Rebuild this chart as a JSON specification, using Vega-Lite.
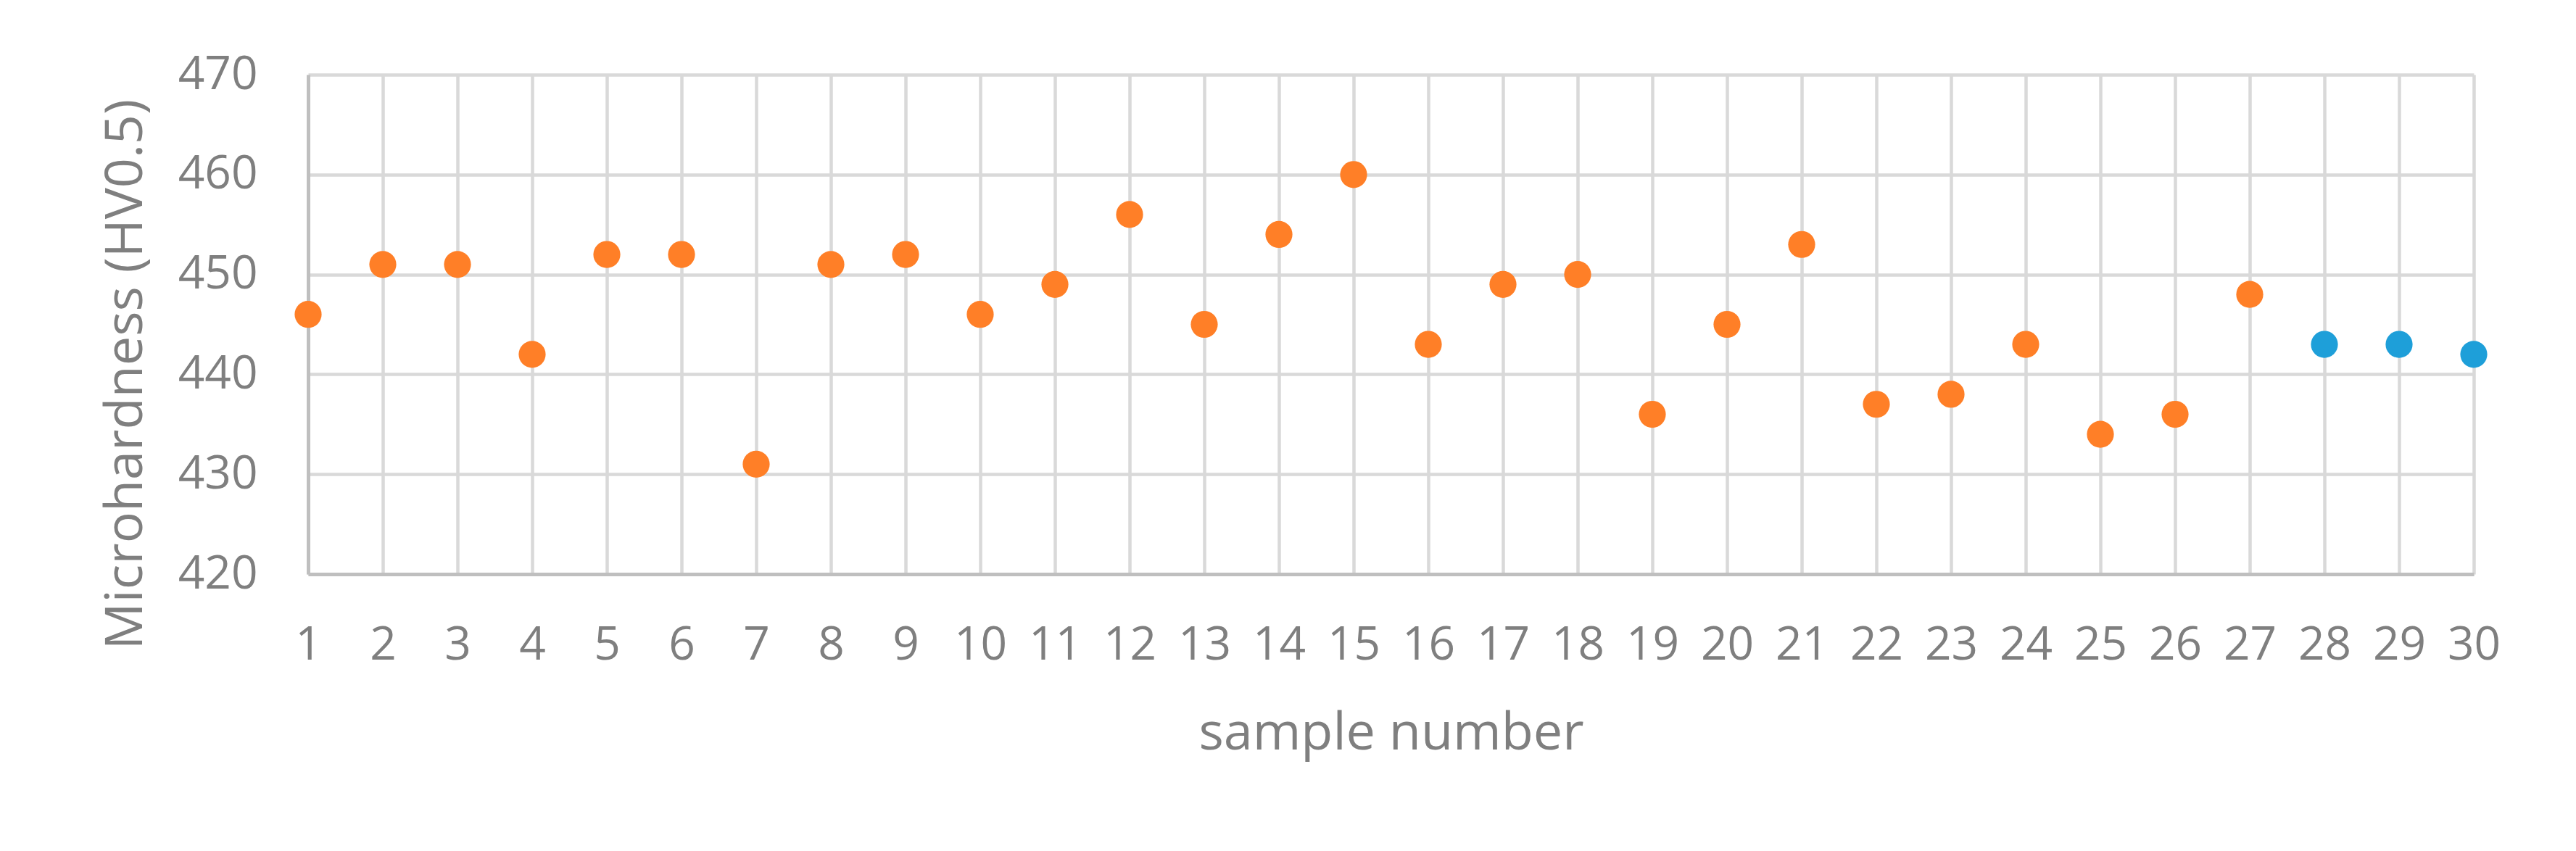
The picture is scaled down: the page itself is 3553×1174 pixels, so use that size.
{
  "$schema": "https://vega.github.io/schema/vega-lite/v6.json",
  "width": 2987,
  "height": 689,
  "autosize": {"type": "none"},
  "padding": {"left": 425, "top": 103, "right": 141, "bottom": 382},
  "background": "white",
  "data": {
    "values": [
      {"sample": 1, "hv": 446, "set": "A"},
      {"sample": 2, "hv": 451, "set": "A"},
      {"sample": 3, "hv": 451, "set": "A"},
      {"sample": 4, "hv": 442, "set": "A"},
      {"sample": 5, "hv": 452, "set": "A"},
      {"sample": 6, "hv": 452, "set": "A"},
      {"sample": 7, "hv": 431, "set": "A"},
      {"sample": 8, "hv": 451, "set": "A"},
      {"sample": 9, "hv": 452, "set": "A"},
      {"sample": 10, "hv": 446, "set": "A"},
      {"sample": 11, "hv": 449, "set": "A"},
      {"sample": 12, "hv": 456, "set": "A"},
      {"sample": 13, "hv": 445, "set": "A"},
      {"sample": 14, "hv": 454, "set": "A"},
      {"sample": 15, "hv": 460, "set": "A"},
      {"sample": 16, "hv": 443, "set": "A"},
      {"sample": 17, "hv": 449, "set": "A"},
      {"sample": 18, "hv": 450, "set": "A"},
      {"sample": 19, "hv": 436, "set": "A"},
      {"sample": 20, "hv": 445, "set": "A"},
      {"sample": 21, "hv": 453, "set": "A"},
      {"sample": 22, "hv": 437, "set": "A"},
      {"sample": 23, "hv": 438, "set": "A"},
      {"sample": 24, "hv": 443, "set": "A"},
      {"sample": 25, "hv": 434, "set": "A"},
      {"sample": 26, "hv": 436, "set": "A"},
      {"sample": 27, "hv": 448, "set": "A"},
      {"sample": 28, "hv": 443, "set": "B"},
      {"sample": 29, "hv": 443, "set": "B"},
      {"sample": 30, "hv": 442, "set": "B"}
    ]
  },
  "mark": {"type": "circle", "opacity": 1, "size": 1385},
  "encoding": {
    "x": {
      "field": "sample",
      "type": "quantitative",
      "scale": {"domain": [1, 30], "nice": false, "zero": false},
      "axis": {
        "values": [1,2,3,4,5,6,7,8,9,10,11,12,13,14,15,16,17,18,19,20,21,22,23,24,25,26,27,28,29,30],
        "title": "sample number",
        "labelPadding": 66,
        "labelFlush": false,
        "labelOverlap": false,
        "titleBaseline": "alphabetic",
        "titleY": 241
      }
    },
    "y": {
      "field": "hv",
      "type": "quantitative",
      "scale": {"domain": [420, 470], "nice": false, "zero": false},
      "axis": {
        "values": [420, 430, 440, 450, 460, 470],
        "title": "Microhardness (HV0.5)",
        "labelPadding": 70,
        "labelFlush": false,
        "labelOverlap": false,
        "titleAngle": -90,
        "titleBaseline": "alphabetic",
        "titleX": -230,
        "titleY": 413
      }
    },
    "color": {
      "field": "set",
      "type": "nominal",
      "scale": {"domain": ["A", "B"], "range": ["#FF7F27", "#1E9FD9"]},
      "legend": null
    }
  },
  "config": {
    "view": {"stroke": null},
    "axis": {
      "grid": true,
      "gridColor": "#D9D9D9",
      "gridWidth": 4.5,
      "domainColor": "#BFBFBF",
      "domainWidth": 5,
      "ticks": false,
      "labelFont": "Open Sans",
      "labelFontSize": 64,
      "labelColor": "#7F7F7F",
      "titleFont": "Open Sans",
      "titleFontSize": 72,
      "titleFontWeight": "normal",
      "titleColor": "#7F7F7F"
    }
  }
}
